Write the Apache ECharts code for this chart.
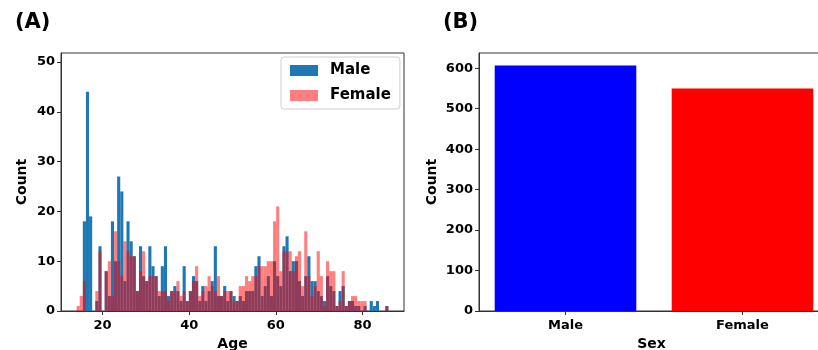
<!DOCTYPE html>
<html><head><meta charset="utf-8">
<script src="https://cdn.jsdelivr.net/npm/echarts@6/dist/echarts.min.js"></script>
<style>html,body{margin:0;padding:0;background:#fff}#c{width:818px;height:350px}</style>
</head><body><div id="c"></div>
<script>
// Histogram bins (age)
const binStart = 14.0;
const binWidth = 0.72;
const maleCounts = [
  0,0,18,44,19,0,2,13,0,8,
  3,18,10,27,24,6,18,14,11,4,
  13,7,6,13,9,7,3,9,13,3,
  4,5,4,2,9,2,4,7,6,2,
  5,2,4,6,13,3,3,5,2,4,
  3,2,3,2,4,4,4,9,11,3,
  5,7,3,10,7,5,13,15,8,10,
  10,6,3,7,11,6,6,4,3,2,
  7,5,4,1,4,5,1,2,2,1,
  1,0,1,0,2,1,2,0,0,1
];
const femaleCounts = [
  1,3,6,0,0,0,4,12,0,8,
  10,3,16,10,7,14,12,11,11,4,
  8,12,6,7,7,7,4,4,4,2,
  4,4,6,3,4,2,4,6,9,3,
  4,5,7,5,4,7,3,4,4,4,
  2,2,5,5,7,6,7,7,9,9,
  9,10,10,18,21,8,12,12,12,8,
  11,12,5,16,7,3,5,12,7,1,
  10,8,8,1,2,8,1,2,3,3,
  2,2,2,0,0,0,0,0,0,1
];
const ageTicks = [20, 40, 60, 80];
const countTicksA = [0, 10, 20, 30, 40, 50];
// Sex bar chart
const sexCategories = ['Male', 'Female'];
const sexCounts = [607, 550];
const sexColors = ['#0000ff', '#ff0000'];
const countTicksB = [0, 100, 200, 300, 400, 500, 600];

const FONT = 'DejaVu Sans';
const tickLabel = {fontFamily: FONT, fontWeight: 'bold', fontSize: 13, color: '#000'};
const nameStyle = {fontFamily: FONT, fontWeight: 'bold', fontSize: 14, color: '#000'};

function histData(counts) {
  return counts.map((c, i) => [binStart + i * binWidth, binStart + (i + 1) * binWidth, c]);
}
function makeRender(fill) {
  return function (params, api) {
    const v = api.value(2);
    if (!v) return null;
    const p0 = api.coord([api.value(0), v]);
    const p1 = api.coord([api.value(1), 0]);
    return {type: 'rect', shape: {x: p0[0], y: p0[1], width: p1[0] - p0[0], height: p1[1] - p0[1]},
      style: {fill: fill}};
  };
}
function renderSexBar(params, api) {
  const i = api.value(0), v = api.value(1);
  const p0 = api.coord([i - 0.4, v]);
  const p1 = api.coord([i + 0.4, 0]);
  return {type: 'rect', shape: {x: p0[0], y: p0[1], width: p1[0] - p0[0], height: p1[1] - p0[1]},
    style: {fill: sexColors[i]}};
}

const axisLineStyle = {show: true, onZero: false, lineStyle: {color: '#333'}};

const chart = echarts.init(document.getElementById('c'), null, {renderer: 'canvas'});
chart.setOption({
  animation: false,
  backgroundColor: '#fff',
  graphic: [
    {type: 'text', left: 15, top: 12, style: {text: '(A)', fontFamily: FONT, fontWeight: 'bold', fontSize: 21, fill: '#000'}},
    {type: 'text', left: 443, top: 12, style: {text: '(B)', fontFamily: FONT, fontWeight: 'bold', fontSize: 21, fill: '#000'}}
  ],
  legend: {
    left: 281, top: 57, orient: 'vertical',
    data: ['Male', 'Female'],
    icon: 'rect', itemWidth: 28, itemHeight: 11, itemGap: 10,
    padding: [6, 9, 6, 9],
    backgroundColor: '#fff', borderColor: '#d0d0d0', borderWidth: 1, borderRadius: 3,
    textStyle: {fontFamily: FONT, fontWeight: 'bold', fontSize: 15, color: '#000', padding: [0, 0, 0, 7]}
  },
  grid: [
    {left: 61, top: 53, width: 343, height: 258, show: true, borderColor: '#333', borderWidth: 1, backgroundColor: 'transparent', outerBoundsMode: 'none'},
    {left: 479, top: 53, width: 345, height: 258, show: true, borderColor: '#333', borderWidth: 1, backgroundColor: 'transparent', outerBoundsMode: 'none'}
  ],
  xAxis: [
    {type: 'value', gridIndex: 0, min: 10.4, max: 89.6, splitLine: {show: false},
      axisLine: axisLineStyle,
      axisTick: {show: true, length: 4, customValues: ageTicks, lineStyle: {color: '#333'}},
      axisLabel: {customValues: ageTicks, margin: 8, ...tickLabel},
      name: 'Age', nameLocation: 'middle', nameGap: 24, nameTextStyle: nameStyle},
    {type: 'value', gridIndex: 1, min: -0.4887, max: -0.4887 + 345 / 177, splitLine: {show: false},
      axisLine: axisLineStyle,
      axisTick: {show: true, length: 4, customValues: [0, 1], lineStyle: {color: '#333'}},
      axisLabel: {customValues: [0, 1], margin: 8, formatter: v => sexCategories[Math.round(v)], ...tickLabel},
      name: 'Sex', nameLocation: 'middle', nameGap: 24, nameTextStyle: nameStyle}
  ],
  yAxis: [
    {type: 'value', gridIndex: 0, min: 0, max: 51.8, splitLine: {show: false},
      axisLine: axisLineStyle,
      axisTick: {show: true, length: 4, customValues: countTicksA, lineStyle: {color: '#333'}},
      axisLabel: {customValues: countTicksA, margin: 6, ...tickLabel},
      name: 'Count', nameLocation: 'middle', nameGap: 32, nameRotate: 90, nameTextStyle: nameStyle},
    {type: 'value', gridIndex: 1, min: 0, max: 637.8, splitLine: {show: false},
      axisLine: axisLineStyle,
      axisTick: {show: true, length: 4, customValues: countTicksB, lineStyle: {color: '#333'}},
      axisLabel: {customValues: countTicksB, margin: 6, ...tickLabel},
      name: 'Count', nameLocation: 'middle', nameGap: 40, nameRotate: 90, nameTextStyle: nameStyle}
  ],
  series: [
    {name: 'Male', type: 'custom', xAxisIndex: 0, yAxisIndex: 0, itemStyle: {color: '#1f77b4'},
      encode: {x: [0, 1], y: 2}, data: histData(maleCounts), renderItem: makeRender('#1f77b4')},
    {name: 'Female', type: 'custom', xAxisIndex: 0, yAxisIndex: 0, itemStyle: {color: 'rgba(255,0,0,0.5)'},
      encode: {x: [0, 1], y: 2}, data: histData(femaleCounts), renderItem: makeRender('rgba(255,0,0,0.5)')},
    {name: 'Sex', type: 'custom', xAxisIndex: 1, yAxisIndex: 1,
      encode: {x: 0, y: 1}, data: sexCounts.map((v, i) => [i, v]), renderItem: renderSexBar}
  ]
});
</script></body></html>
